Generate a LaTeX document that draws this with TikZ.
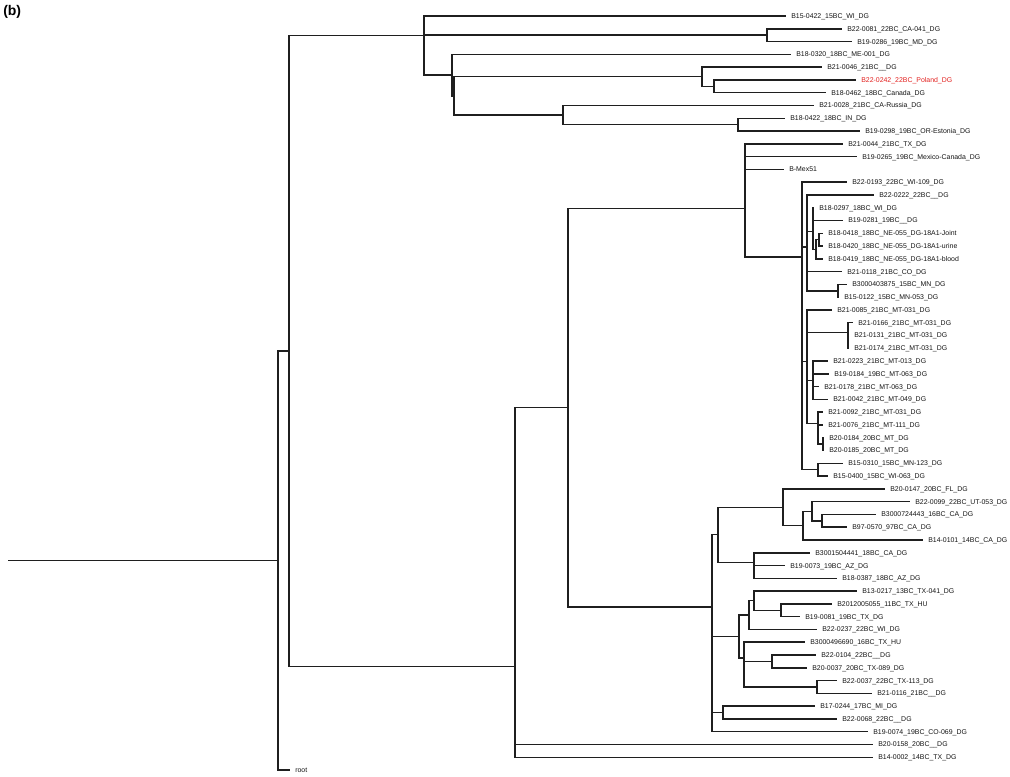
\documentclass[tikz,border=0pt]{standalone}
\usepackage{fontspec}
\setmainfont{Liberation Sans}
\usepackage{tikz}
\usetikzlibrary{positioning}
\usetikzlibrary{calc}

\definecolor{polandred}{RGB}{226,32,30}
\newcommand{\leaffont}{\fontsize{5.2}{6}\selectfont}

\tikzset{
    leaf/.style={anchor=west, inner xsep=3.75pt, inner ysep=0pt,
        text height=3.7pt, text depth=0pt, font=\leaffont, text=black!92},
    branch/.style={draw=black!88, line width=1.1pt},
}

\begin{document}
\begin{tikzpicture}[x=0.75pt, y=-9.585pt]
        \useasboundingbox (0,-0.252) rectangle (1010,60.468);

        % Panel letter
        \node[anchor=north west, inner sep=0pt, font=\bfseries\fontsize{10.5}{12}\selectfont] (panel) at (3,0.14) {(b)};

        % Draw the leaves
        \node[leaf] (l1)  at (786,1)  {B15-0422\_15BC\_WI\_DG};
        \node[leaf] (l2)  at (842,2)  {B22-0081\_22BC\_CA-041\_DG};
        \node[leaf] (l3)  at (852,3)  {B19-0286\_19BC\_MD\_DG};
        \node[leaf] (l4)  at (791,4)  {B18-0320\_18BC\_ME-001\_DG};
        \node[leaf] (l5)  at (822,5)  {B21-0046\_21BC\_\_DG};
        \node[leaf, text=polandred] (l6) at (856,6) {B22-0242\_22BC\_Poland\_DG};
        \node[leaf] (l7)  at (826,7)  {B18-0462\_18BC\_Canada\_DG};
        \node[leaf] (l8)  at (814,8)  {B21-0028\_21BC\_CA-Russia\_DG};
        \node[leaf] (l9)  at (785,9)  {B18-0422\_18BC\_IN\_DG};
        \node[leaf] (l10) at (860,10) {B19-0298\_19BC\_OR-Estonia\_DG};
        \node[leaf] (l11) at (843,11) {B21-0044\_21BC\_TX\_DG};
        \node[leaf] (l12) at (857,12) {B19-0265\_19BC\_Mexico-Canada\_DG};
        \node[leaf] (l13) at (784,13) {B-Mex51};
        \node[leaf] (l14) at (847,14) {B22-0193\_22BC\_WI-109\_DG};
        \node[leaf] (l15) at (874,15) {B22-0222\_22BC\_\_DG};
        \node[leaf] (l16) at (814,16) {B18-0297\_18BC\_WI\_DG};
        \node[leaf] (l17) at (843,17) {B19-0281\_19BC\_\_DG};
        \node[leaf] (l18) at (823,18) {B18-0418\_18BC\_NE-055\_DG-18A1-Joint};
        \node[leaf] (l19) at (823,19) {B18-0420\_18BC\_NE-055\_DG-18A1-urine};
        \node[leaf] (l20) at (823,20) {B18-0419\_18BC\_NE-055\_DG-18A1-blood};
        \node[leaf] (l21) at (842,21) {B21-0118\_21BC\_CO\_DG};
        \node[leaf] (l22) at (847,22) {B3000403875\_15BC\_MN\_DG};
        \node[leaf] (l23) at (839,23) {B15-0122\_15BC\_MN-053\_DG};
        \node[leaf] (l24) at (832,24) {B21-0085\_21BC\_MT-031\_DG};
        \node[leaf] (l25) at (853,25) {B21-0166\_21BC\_MT-031\_DG};
        \node[leaf] (l26) at (849,26) {B21-0131\_21BC\_MT-031\_DG};
        \node[leaf] (l27) at (849,27) {B21-0174\_21BC\_MT-031\_DG};
        \node[leaf] (l28) at (828,28) {B21-0223\_21BC\_MT-013\_DG};
        \node[leaf] (l29) at (829,29) {B19-0184\_19BC\_MT-063\_DG};
        \node[leaf] (l30) at (819,30) {B21-0178\_21BC\_MT-063\_DG};
        \node[leaf] (l31) at (828,31) {B21-0042\_21BC\_MT-049\_DG};
        \node[leaf] (l32) at (823,32) {B21-0092\_21BC\_MT-031\_DG};
        \node[leaf] (l33) at (823,33) {B21-0076\_21BC\_MT-111\_DG};
        \node[leaf] (l34) at (824,34) {B20-0184\_20BC\_MT\_DG};
        \node[leaf] (l35) at (824,35) {B20-0185\_20BC\_MT\_DG};
        \node[leaf] (l36) at (843,36) {B15-0310\_15BC\_MN-123\_DG};
        \node[leaf] (l37) at (828,37) {B15-0400\_15BC\_WI-063\_DG};
        \node[leaf] (l38) at (885,38) {B20-0147\_20BC\_FL\_DG};
        \node[leaf] (l39) at (910,39) {B22-0099\_22BC\_UT-053\_DG};
        \node[leaf] (l40) at (876,40) {B3000724443\_16BC\_CA\_DG};
        \node[leaf] (l41) at (847,41) {B97-0570\_97BC\_CA\_DG};
        \node[leaf] (l42) at (923,42) {B14-0101\_14BC\_CA\_DG};
        \node[leaf] (l43) at (810,43) {B3001504441\_18BC\_CA\_DG};
        \node[leaf] (l44) at (785,44) {B19-0073\_19BC\_AZ\_DG};
        \node[leaf] (l45) at (837,45) {B18-0387\_18BC\_AZ\_DG};
        \node[leaf] (l46) at (857,46) {B13-0217\_13BC\_TX-041\_DG};
        \node[leaf] (l47) at (832,47) {B2012005055\_11BC\_TX\_HU};
        \node[leaf] (l48) at (800,48) {B19-0081\_19BC\_TX\_DG};
        \node[leaf] (l49) at (817,49) {B22-0237\_22BC\_WI\_DG};
        \node[leaf] (l50) at (805,50) {B3000496690\_16BC\_TX\_HU};
        \node[leaf] (l51) at (816,51) {B22-0104\_22BC\_\_DG};
        \node[leaf] (l52) at (807,52) {B20-0037\_20BC\_TX-089\_DG};
        \node[leaf] (l53) at (837,53) {B22-0037\_22BC\_TX-113\_DG};
        \node[leaf] (l54) at (872,54) {B21-0116\_21BC\_\_DG};
        \node[leaf] (l55) at (815,55) {B17-0244\_17BC\_MI\_DG};
        \node[leaf] (l56) at (837,56) {B22-0068\_22BC\_\_DG};
        \node[leaf] (l57) at (868,57) {B19-0074\_19BC\_CO-069\_DG};
        \node[leaf] (l58) at (873,58) {B20-0158\_20BC\_\_DG};
        \node[leaf] (l59) at (873,59) {B14-0002\_14BC\_TX\_DG};
        \node[leaf] (l60) at (290,60) {root};

        % Internal nodes
        \coordinate (base) at (8,43.61);
        \coordinate (nR)   at (278,43.61);
        \coordinate (nA)   at (289,27.22);
        \coordinate (nB)   at (424,2.53);
        \coordinate (nD)   at (767,2.5);
        \coordinate (nE)   at (452,5.63);
        \coordinate (nE2)  at (454,7.25);
        \coordinate (nF)   at (702,5.75);
        \coordinate (nH)   at (714,6.5);
        \coordinate (nG)   at (563,8.75);
        \coordinate (nI)   at (738,9.5);
        \coordinate (nC0)  at (515,51.91);
        \coordinate (nZ)   at (568,31.65);
        \coordinate (nQ1)  at (745,16.05);
        \coordinate (nQ2)  at (802,19.84);
        \coordinate (nQ4a) at (807,19.09);
        \coordinate (nQ10) at (813,17.88);
        \coordinate (nQ11) at (816,19.25);
        \coordinate (nQ12) at (819,18.5);
        \coordinate (nQ5)  at (838,22.5);
        \coordinate (nQ4b) at (807,28.03);
        \coordinate (nQ6)  at (848,25.75);
        \coordinate (nQ7)  at (813,29.5);
        \coordinate (nQ8)  at (818,32.88);
        \coordinate (nQ9)  at (823,34.5);
        \coordinate (nQ3)  at (818,36.5);
        \coordinate (nJ)   at (712,47.25);
        \coordinate (nK)   at (718,41.59);
        \coordinate (nN)   at (783,39.44);
        \coordinate (nP)   at (803,40.88);
        \coordinate (nR2)  at (812,39.75);
        \coordinate (nQq)  at (822,40.5);
        \coordinate (nO)   at (754,43.75);
        \coordinate (nV)   at (739,49.56);
        \coordinate (nU)   at (749,47.88);
        \coordinate (nT)   at (754,46.75);
        \coordinate (nS)   at (781,47.5);
        \coordinate (nW)   at (744,51.25);
        \coordinate (nX)   at (772,51.5);
        \coordinate (nY)   at (817,53.5);
        \coordinate (nM)   at (723,55.5);

        % Connect the tree
        \draw[branch] (base) -- (nR);
        \draw[branch]
            (nR) |- (nA)   (nR) |- (l60)
            (nA) |- (nB)   (nA) |- (nC0)
            (nB) |- (l1)   (nB) |- (nD)    (nB) |- (nE)
            (nD) |- (l2)   (nD) |- (l3)
            (nE) |- (l4)   (nE) |- (nE2)
            (nE2) |- (nF)  (nE2) |- (nG)
            (nF) |- (l5)   (nF) |- (nH)
            (nH) |- (l6)   (nH) |- (l7)
            (nG) |- (l8)   (nG) |- (nI)
            (nI) |- (l9)   (nI) |- (l10);
        \draw[branch]
            (nC0) |- (nZ)  (nC0) |- (l58)  (nC0) |- (l59)
            (nZ) |- (nQ1)  (nZ) |- (nJ)
            (nQ1) |- (l11) (nQ1) |- (l12)  (nQ1) |- (l13)  (nQ1) |- (nQ2)
            (nQ2) |- (l14) (nQ2) |- (nQ4a) (nQ2) |- (nQ4b) (nQ2) |- (nQ3)
            (nQ4a) |- (l15) (nQ4a) |- (nQ10) (nQ4a) |- (l21) (nQ4a) |- (nQ5)
            (nQ10) |- (l16) (nQ10) |- (l17) (nQ10) |- (nQ11)
            (nQ11) |- (nQ12) (nQ11) |- (l20)
            (nQ12) |- (l18) (nQ12) |- (l19)
            (nQ5) |- (l22) (nQ5) |- (l23)
            (nQ4b) |- (l24) (nQ4b) |- (nQ6) (nQ4b) |- (nQ7) (nQ4b) |- (nQ8)
            (nQ6) |- (l25) (nQ6) |- (l26) (nQ6) |- (l27)
            (nQ7) |- (l28) (nQ7) |- (l29) (nQ7) |- (l30) (nQ7) |- (l31)
            (nQ8) |- (l32) (nQ8) |- (l33) (nQ8) |- (nQ9)
            (nQ9) |- (l34) (nQ9) |- (l35)
            (nQ3) |- (l36) (nQ3) |- (l37);
        \draw[branch]
            (nJ) |- (nK)   (nJ) |- (nV)   (nJ) |- (nM)   (nJ) |- (l57)
            (nK) |- (nN)   (nK) |- (nO)
            (nN) |- (l38)  (nN) |- (nP)
            (nP) |- (nR2)  (nP) |- (l42)
            (nR2) |- (l39) (nR2) |- (nQq)
            (nQq) |- (l40) (nQq) |- (l41)
            (nO) |- (l43)  (nO) |- (l44)  (nO) |- (l45)
            (nV) |- (nU)   (nV) |- (nW)
            (nU) |- (nT)   (nU) |- (l49)
            (nT) |- (l46)  (nT) |- (nS)
            (nS) |- (l47)  (nS) |- (l48)
            (nW) |- (l50)  (nW) |- (nX)   (nW) |- (nY)
            (nX) |- (l51)  (nX) |- (l52)
            (nY) |- (l53)  (nY) |- (l54)
            (nM) |- (l55)  (nM) |- (l56);
\end{tikzpicture}
\end{document}
